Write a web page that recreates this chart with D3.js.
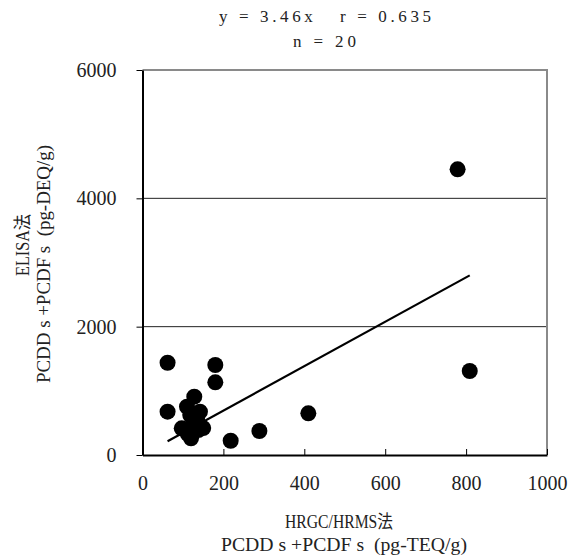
<!DOCTYPE html>
<html>
<head>
<meta charset="utf-8">
<script src="https://cdn.jsdelivr.net/npm/d3@7"></script>
<style>
  body { margin: 0; background: #ffffff; }
  text { white-space: pre; }
</style>
</head>
<body>
<div id="chart"></div>
<script>
// HRGC/HRMS (x) vs ELISA (y), pg/g
const hrgc = [779, 809, 62, 180, 180, 62, 410, 289, 218, 128, 110, 142, 118, 97, 138, 120, 125, 150, 112, 135]
const elisa = [4452, 1309, 1438, 1403, 1133, 675, 650, 374, 222, 909, 753, 675, 623, 416, 390, 260, 500, 420, 330, 560]
const slope = 3.46
const xTicks = [0, 200, 400, 600, 800, 1000]
const yTicks = [0, 2000, 4000, 6000]
const gridValues = [2000, 4000]
const titleLines = ['y = 3.46x   r = 0.635', 'n = 20']
const xTitle = ['HRGC/HRMS法', 'PCDD s +PCDF s  (pg-TEQ/g)']
const yTitle = ['ELISA法', 'PCDD s +PCDF s  (pg-DEQ/g)']

const WIDTH = 576
const HEIGHT = 559
const FONT = 'Liberation Serif, DejaVu Serif, Noto Sans CJK JP, serif'

const svg = d3.select('#chart').append('svg').attr('width', WIDTH).attr('height', HEIGHT)
svg.append('rect').attr('width', WIDTH).attr('height', HEIGHT).attr('fill', '#ffffff')

const x = d3.scaleLinear().domain([0, 1000]).range([142.5, 547])
const y = d3.scaleLinear().domain([0, 6000]).range([455, 70])

// gridlines
svg
  .selectAll('.grid')
  .data(gridValues)
  .join('line')
  .attr('x1', x(0))
  .attr('x2', x(1000))
  .attr('y1', (d) => y(d))
  .attr('y2', (d) => y(d))
  .attr('stroke', '#222222')
  .attr('stroke-width', 1)

// top and right border (grey)
svg
  .append('path')
  .attr('d', `M${x(0)},${y(6000)} H${x(1000)} V${y(0)}`)
  .attr('fill', 'none')
  .attr('stroke', '#8a8a8a')
  .attr('stroke-width', 2)

// axes
const xAxis = svg
  .append('g')
  .attr('transform', `translate(0, ${y(0)})`)
  .call(
    d3.axisBottom(x).tickValues(xTicks).tickFormat(d3.format('d'))
      .tickSizeInner(-6).tickSizeOuter(0).tickPadding(21)
  )
const yAxis = svg
  .append('g')
  .attr('transform', `translate(${x(0)}, 0)`)
  .call(
    d3.axisLeft(y).tickValues(yTicks).tickFormat(d3.format('d'))
      .tickSizeInner(6).tickSizeOuter(0).tickPadding(20)
  )

for (const ax of [xAxis, yAxis]) {
  ax.attr('font-family', FONT).attr('font-size', 20)
  ax.select('.domain').attr('stroke', '#000000').attr('stroke-width', 2)
  ax.selectAll('.tick line').attr('stroke', '#000000').attr('stroke-width', 1)
  ax.selectAll('.tick text').attr('fill', '#222222')
}

// regression line through origin, over the data range
const [xMin, xMax] = d3.extent(hrgc)
svg
  .append('line')
  .attr('x1', x(xMin))
  .attr('y1', y(slope * xMin))
  .attr('x2', x(xMax))
  .attr('y2', y(slope * xMax))
  .attr('stroke', '#000000')
  .attr('stroke-width', 2.2)

// points
svg
  .selectAll('.pt')
  .data(hrgc.map((v, i) => [v, elisa[i]]))
  .join('circle')
  .attr('cx', (d) => x(d[0]))
  .attr('cy', (d) => y(d[1]))
  .attr('r', 8)
  .attr('fill', '#000000')

const label = (sel, t, size, len, adjust = 'spacingAndGlyphs') =>
  sel
    .append('text')
    .attr('font-family', FONT)
    .attr('font-size', size)
    .attr('fill', '#222222')
    .attr('textLength', len)
    .attr('lengthAdjust', adjust)
    .text(t)

// title, letter-spaced like the original monospaced font
label(svg, titleLines[0], 17, 212, 'spacing').attr('x', 219).attr('y', 22)
label(svg, titleLines[1], 17, 63, 'spacing').attr('x', 293).attr('y', 47)

// x axis title
label(svg, xTitle[0], 18, 108).attr('x', 285).attr('y', 528)
label(svg, xTitle[1], 18, 246).attr('x', 221).attr('y', 551)

// y axis title (rotated)
label(svg, yTitle[0], 18, 62).attr('text-anchor', 'middle')
  .attr('transform', 'translate(29, 245) rotate(-90)')
label(svg, yTitle[1], 18, 238).attr('text-anchor', 'middle')
  .attr('transform', 'translate(50, 264) rotate(-90)')
</script>
</body>
</html>
